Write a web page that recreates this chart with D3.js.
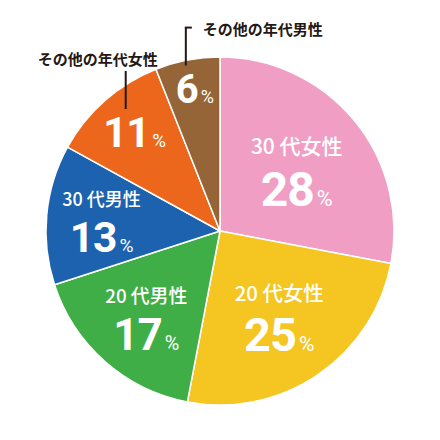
<!DOCTYPE html>
<html><head><meta charset="utf-8">
<script src="https://cdn.jsdelivr.net/npm/d3@7"></script>
<style>html,body{margin:0;padding:0;background:#fff;}</style>
</head><body>
<svg id="chart" width="440" height="440"></svg>
<script>
const categories = ["30 代女性","20 代女性","20 代男性","30 代男性","その他の年代女性","その他の年代男性"];
const values = [28,25,17,13,11,6];
const colors = ["#F19EC4","#F5C622","#3FAE47","#1C62AE","#EC671B","#956537"];

const svg = d3.select("#chart");
const cx = 220, cy = 231, R = 174;
const g = svg.append("g").attr("transform",`translate(${cx},${cy})`);

const pie = d3.pie().sort(null).value(d=>d);
const arcs = pie(values);
const arc = d3.arc().innerRadius(0).outerRadius(R);

g.selectAll("path.slice").data(arcs).join("path")
  .attr("class","slice")
  .attr("d",arc)
  .attr("fill",(d,i)=>colors[i])
  .attr("stroke","#fff").attr("stroke-width",1.5).attr("stroke-linejoin","round");

const labelR = d3.scaleLinear().domain([6,11,13,28]).range([145,132,121,97]);
const numSize = d3.scaleLinear().domain([6,28]).range([40,48]);
const titleSize = d3.scaleLinear().domain([13,28]).range([18,21]).clamp(true);
const FONT = "'Noto Sans CJK JP', sans-serif";
const NUMFONT = "Roboto, 'Noto Sans CJK JP', sans-serif";
const insideMin = 13;

arcs.forEach((a,i)=>{
  const v = values[i];
  const ang = (a.startAngle+a.endAngle)/2;
  const lr = labelR(v);
  const x = lr*Math.sin(ang) + 2, y = -lr*Math.cos(ang);
  const ns = numSize(v);
  const inside = v >= insideMin;
  const baseY = inside ? y + ns*0.76 : y + ns*0.36;
  if (inside) {
    g.append("text").attr("x",x).attr("y",y - ns*0.5)
      .attr("text-anchor","middle").attr("dominant-baseline","central")
      .attr("fill","#fff").attr("font-family",FONT).attr("font-weight",500)
      .attr("font-size",titleSize(v)).text(categories[i]);
  }
  const t = g.append("text").attr("x",x).attr("y",baseY)
    .attr("text-anchor","middle").attr("fill","#fff").attr("font-family",NUMFONT).attr("font-weight","bold");
  t.append("tspan").attr("font-size",ns).attr("letter-spacing",-1).text(v);
  t.append("tspan").attr("font-size",ns*0.45).attr("font-weight","normal").attr("dx",3).text("%");

  if (!inside) {
    const lx = x - 9, ly1 = y - 23, ly0 = ly1 - 38;
    g.append("line").attr("x1",lx).attr("x2",lx).attr("y1",ly0).attr("y2",ly1)
      .attr("stroke","#231815").attr("stroke-width",2);
    const lab = g.append("text").attr("fill","#231815").attr("font-family",FONT)
      .attr("font-weight","bold").attr("font-size",15).attr("dominant-baseline","central")
      .text(categories[i]);
    if (ang > Math.PI*1.85) {
      g.append("line").attr("x1",lx-1).attr("x2",lx+6).attr("y1",ly0).attr("y2",ly0)
        .attr("stroke","#231815").attr("stroke-width",2);
      lab.attr("x",lx+17).attr("y",ly0+1).attr("text-anchor","start");
    } else {
      lab.attr("x",lx-28).attr("y",ly0-13).attr("text-anchor","middle");
    }
  }
});
</script>
</body></html>
